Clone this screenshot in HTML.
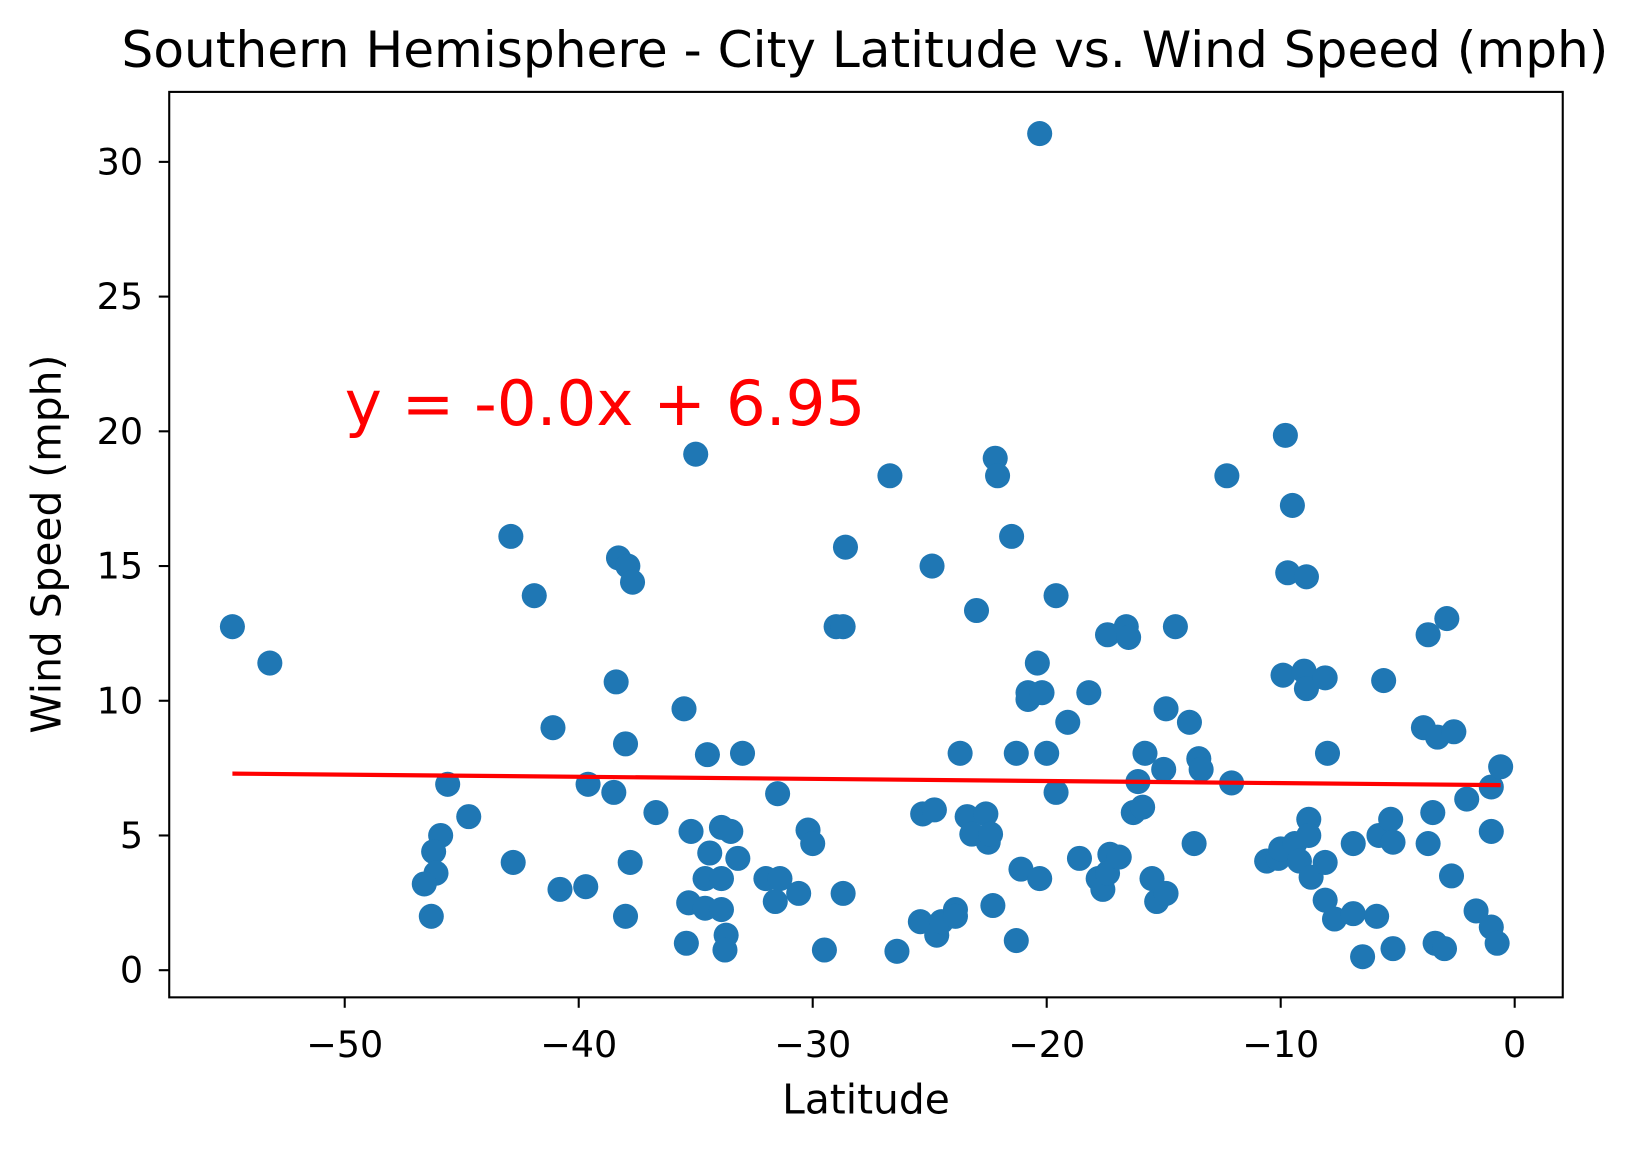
<!DOCTYPE html>
<html><head><meta charset="utf-8"><style>
html,body{margin:0;padding:0;background:#fff;}
svg{display:block;font-family:"DejaVu Sans","Liberation Sans",sans-serif;}
</style></head>
<body>
<svg id="chart" width="1639" height="1154" viewBox="0 0 1569 1105" preserveAspectRatio="none">
<rect x="0" y="0" width="1569" height="1105" fill="#fff"/>
<text x="828" y="64" font-size="48" text-anchor="middle">Southern Hemisphere - City Latitude vs. Wind Speed (mph)</text>
<g id="xticks"></g>
<g id="yticks"></g>
<g id="points"></g>
<g id="reg"></g>
<rect x="162" y="88" width="1334" height="867" fill="none" stroke="#000" stroke-width="2"/>
<text x="829" y="1066" font-size="39" text-anchor="middle">Latitude</text>
<text transform="translate(58,521) rotate(-90)" font-size="39" text-anchor="middle">Wind Speed (mph)</text>
</svg>
<script>
const lats = [-54.8,-53.2,-45.6,-44.7,-45.9,-46.2,-46.1,-46.6,-46.3,-42.9,-41.9,-41.1,-42.8,-40.8,-39.7,-39.6,-38.5,-38.4,-38.3,-37.9,-37.7,-38.0,-37.8,-38.0,-36.7,-35.0,-35.5,-35.2,-35.3,-35.4,-34.5,-34.4,-34.6,-34.6,-33.9,-33.5,-33.9,-33.9,-33.7,-33.75,-33.2,-33.0,-32.0,-31.4,-31.6,-31.5,-30.6,-30.2,-30.0,-29.5,-29.0,-28.7,-28.6,-28.7,-26.7,-26.4,-25.4,-25.3,-24.8,-24.9,-24.7,-24.5,-23.9,-23.9,-23.7,-23.4,-23.2,-23.0,-22.6,-22.5,-22.4,-22.3,-22.2,-22.1,-21.5,-21.3,-21.3,-21.1,-20.8,-20.8,-20.3,-20.4,-20.2,-20.3,-20.0,-19.6,-19.6,-19.1,-18.6,-18.2,-17.8,-17.6,-17.4,-17.3,-17.4,-16.9,-16.6,-16.5,-16.3,-16.1,-15.9,-15.8,-15.5,-15.3,-14.9,-15.0,-14.9,-14.5,-13.9,-13.7,-13.5,-13.4,-12.3,-12.1,-10.6,-10.1,-10.0,-9.8,-9.9,-9.7,-9.5,-9.4,-9.2,-8.9,-9.0,-8.9,-8.8,-8.8,-8.7,-8.1,-8.0,-8.1,-8.1,-7.7,-6.9,-6.9,-6.5,-5.9,-5.8,-5.6,-5.3,-5.2,-5.2,-3.9,-3.7,-3.7,-3.5,-3.3,-3.4,-3.0,-2.9,-2.6,-2.7,-2.05,-1.65,-1.0,-1.0,-1.0,-0.75,-0.6];
const winds = [12.75,11.4,6.9,5.7,5.0,4.4,3.6,3.2,2.0,16.1,13.9,9.0,4.0,3.0,3.1,6.9,6.6,10.7,15.3,15.0,14.4,8.4,4.0,2.0,5.85,19.15,9.7,5.15,2.5,1.0,8.0,4.35,3.4,2.3,5.3,5.15,3.4,2.25,1.3,0.75,4.15,8.05,3.4,3.4,2.55,6.55,2.85,5.2,4.7,0.75,12.75,12.75,15.7,2.85,18.35,0.7,1.8,5.8,5.95,15.0,1.3,1.8,2.25,2.0,8.05,5.7,5.05,13.35,5.8,4.75,5.05,2.4,19.0,18.35,16.1,1.1,8.05,3.75,10.3,10.05,31.05,11.4,10.3,3.4,8.05,6.6,13.9,9.2,4.15,10.3,3.4,3.0,12.45,4.3,3.6,4.2,12.75,12.35,5.85,7.0,6.05,8.05,3.4,2.55,2.85,7.45,9.7,12.75,9.2,4.7,7.85,7.45,18.35,6.95,4.05,4.15,4.5,19.85,10.95,14.75,17.25,4.7,4.05,14.6,11.1,10.45,5.6,5.0,3.45,10.85,8.05,4.0,2.6,1.9,4.7,2.1,0.5,2.0,5.0,10.75,5.6,4.75,0.8,9.0,4.7,12.45,5.85,8.65,1.0,0.8,13.05,8.85,3.5,6.35,2.2,1.6,6.8,5.15,1.0,7.55];
const xTicks = [-50,-40,-30,-20,-10,0];
const yTicks = [0,5,10,15,20,25,30];
const xTickLabels = ["\u221250","\u221240","\u221230","\u221220","\u221210","0"];
const yTickLabels = ["0","5","10","15","20","25","30"];
const eqText = "y = -0.0x + 6.95";

const NS = "http://www.w3.org/2000/svg";
function X(v){ return 1450 + v*22.4; }
function Y(v){ return 929 - v*25.8; }
function mk(tag, attrs, parent){ const e=document.createElementNS(NS,tag); for(const k in attrs) e.setAttribute(k,attrs[k]); parent.appendChild(e); return e; }

const xg=document.getElementById('xticks');
xTicks.forEach((t,i)=>{
  const l=mk('line',{x1:X(t),x2:X(t),y1:955,y2:965,stroke:'#000','stroke-width':2},xg);
  
  
  const tx=mk('text',{x:X(t),y:1012,'font-size':35,'text-anchor':'middle'},xg);
  tx.textContent=xTickLabels[i];
  
  
});
const yg=document.getElementById('yticks');
yTicks.forEach((t,i)=>{
  const l=mk('line',{x1:152,x2:162,y1:Y(t),y2:Y(t),stroke:'#000','stroke-width':2},yg);
  
  
  const tx=mk('text',{x:137,y:Y(t)+12,'font-size':35,'text-anchor':'end'},yg);
  tx.textContent=yTickLabels[i];
  
  
});
const pg=document.getElementById('points');
lats.forEach((v,i)=>{
  const c=mk('circle',{cx:X(v),cy:Y(winds[i]),r:12,fill:'#1f77b4'},pg);
  
  
});
const n=lats.length;
const mx=lats.reduce((a,b)=>a+b,0)/n, my=winds.reduce((a,b)=>a+b,0)/n;
let sxy=0,sxx=0; for(let i=0;i<n;i++){sxy+=(lats[i]-mx)*(winds[i]-my); sxx+=(lats[i]-mx)**2;}
const slope=sxy/sxx, icpt=my-slope*mx;
const xmin=Math.min(...lats), xmax=Math.max(...lats);
const rg=document.getElementById('reg');
const rl=mk('line',{x1:X(xmin),y1:Y(slope*xmin+icpt),x2:X(xmax),y2:Y(slope*xmax+icpt),stroke:'#ff0000','stroke-width':4},rg);


const et=mk('text',{x:X(-50),y:Y(20)-6,'font-size':60,fill:'#ff0000'},rg);
et.textContent=eqText;


</script>
</body></html>
